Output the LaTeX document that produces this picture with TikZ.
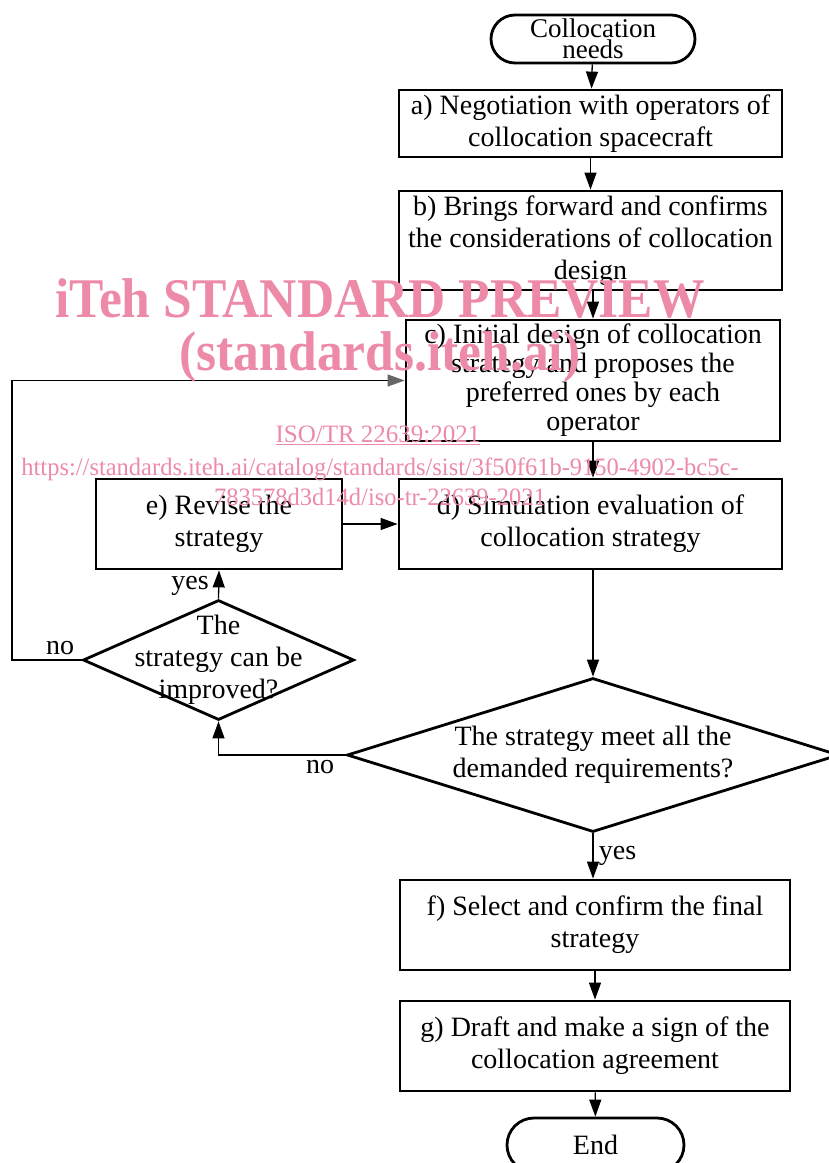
\documentclass[tikz,border=0pt]{standalone}
\usepackage{fontspec}
\setmainfont{Liberation Serif}
\usetikzlibrary{arrows.meta,shapes.geometric,shapes.misc}
\definecolor{wmpink}{RGB}{236,138,168}
\begin{document}
\begin{tikzpicture}[x=1pt,y=-1pt,
  box/.style={draw,line width=2.8pt,inner sep=0pt,align=center,font=\fontsize{28}{32}\selectfont},
  term/.style={box,rounded rectangle},
  query/.style={draw,line width=2.8pt,diamond,inner sep=0pt},
  arr/.style={line width=1.3pt,-{Triangle[length=17pt,width=12pt]}},
  lbl/.style={font=\fontsize{28}{32}\selectfont},
  wm/.style={text=wmpink,align=center}]
\useasboundingbox (0,0) rectangle (829,1163);
\node[term,minimum width=204pt,minimum height=48pt,font=\fontsize{27}{21}\selectfont] (start) at (593,39) {Collocation\\needs};
\node[box,minimum width=383pt,minimum height=67pt] (a) at (590.5,123.5) {a) Negotiation with operators of\\collocation spacecraft};
\node[box,minimum width=383pt,minimum height=99pt] (b) at (590.5,240.5) {b) Brings forward and confirms\\the considerations of collocation\\design};
\node[box,minimum width=374pt,minimum height=121pt,font=\fontsize{28}{29}\selectfont] (c) at (593,380.5) {c) Initial design of collocation\\strategy and proposes the\\preferred ones by each\\operator};
\node[box,minimum width=383pt,minimum height=90pt] (d) at (590.5,524) {d) Simulation evaluation of\\collocation strategy};
\node[box,minimum width=246pt,minimum height=90pt] (e) at (219,524) {e) Revise the\\strategy};
\node[query,minimum width=271pt,minimum height=120pt,
  label={[lbl,align=center]center:The\\strategy can be\\improved?}] (q1) at (218.5,660) {};
\node[query,minimum width=492pt,minimum height=154pt,
  label={[lbl,align=center]center:The strategy meet all the\\demanded requirements?}] (q2) at (593,755) {};
\node[box,minimum width=390pt,minimum height=90pt] (f) at (595,925) {f) Select and confirm the final\\strategy};
\node[box,minimum width=390pt,minimum height=90pt] (g) at (595,1046) {g) Draft and make a sign of the\\collocation agreement};
\node[term,minimum width=177pt,minimum height=54pt] (stop) at (595.5,1145) {End};
\coordinate (loop) at (12,660);
\draw[arr] (start) -- (a);
\draw[arr] (a) -- (b);
\draw[arr] (b.south -| c.north) -- (c.north);
\draw[arr] (c.south) -- (c.south |- d.north);
\draw[arr] (e) -- (d);
\draw[arr] (q1.north) -- (e.south) node[lbl,pos=0.45,left=6pt] {yes};
\draw[line width=1.3pt,-{Triangle[length=17pt,width=12pt,color=black!60]}] (q1.west) -- (loop) |- (c.west);
\node[lbl] (no1) at (60,648) {no};
\draw[arr] (d.south -| q2.north) -- (q2.north);
\draw[arr] (q2.west) -| (q1.south);
\node[lbl] (no2) at (320,767) {no};
\draw[arr] (q2.south) -- (q2.south |- f.north) node[lbl,midway,right=2pt] {yes};
\draw[arr] (f) -- (g);
\draw[arr] (g) -- (stop);
% watermark
\node[wm,font=\bfseries\fontsize{56}{60}\selectfont,xscale=0.92] (wm1) at (380,298) {iTeh STANDARD PREVIEW};
\node[wm,font=\bfseries\fontsize{56}{60}\selectfont,xscale=0.92] (wm2) at (380,357) {(standards.iteh.ai)};
\node[wm,font=\fontsize{25}{30}\selectfont] (wm3) at (378,435) {\underline{ISO/TR 22639:2021}};
\node[wm,font=\fontsize{25}{30}\selectfont,xscale=0.98] (wm4) at (380,482) {https://standards.iteh.ai/catalog/standards/sist/3f50f61b-9150-4902-bc5c-\\783578d3d14d/iso-tr-22639-2021};
\end{tikzpicture}
\end{document}
